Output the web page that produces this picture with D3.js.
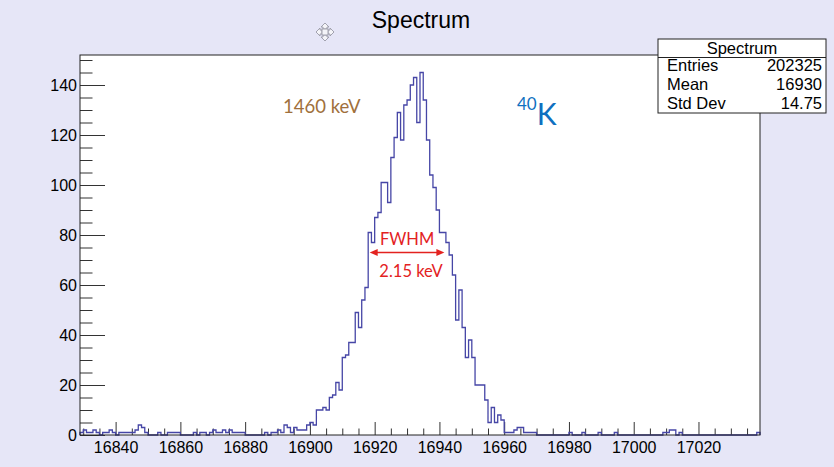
<!DOCTYPE html>
<html><head><meta charset="utf-8">
<script src="https://cdn.jsdelivr.net/npm/d3@7"></script>
<style>
html,body{margin:0;padding:0;background:#e6e6f7;}
svg{display:block;}
</style></head>
<body>
<svg id="chart" width="834" height="467"></svg>
<script>
// ---- data ----
const binStart = 16829;   // low edge of first bin, bin width 1
const binEnd = 17039;
const counts = [
  1,2,1,1,2,1,0,1,1,2,
  1,0,1,1,1,1,1,2,4,3,
  1,0,0,0,1,0,0,1,1,1,
  1,0,0,0,0,1,0,1,1,0,
  1,2,1,1,2,1,2,1,1,1,
  1,0,0,0,0,0,0,1,0,1,
  1,2,1,4,3,1,3,2,2,2,
  4,5,4,10,10,11,10,15,16,21,
  18,31,32,37,37,49,43,54,59,81,
  77,87,89,101,101,93,111,119,129,118,
  132,134,140,143,125,145,134,118,104,99,
  90,81,81,77,72,64,46,58,43,31,
  38,31,20,20,20,14,5,11,5,8,
  6,1,1,1,2,3,3,1,1,1,
  1,0,0,0,0,0,0,0,0,0,
  0,1,0,0,0,1,0,0,0,0,
  1,0,0,0,0,1,0,0,0,0,
  0,0,0,0,0,0,0,0,0,0,
  1,1,2,2,0,1,0,0,0,0,
  0,0,0,0,0,0,0,0,0,0,
  0,0,0,0,0,0,0,0,0,1
];
const xMajorTicks = [16840,16860,16880,16900,16920,16940,16960,16980,17000,17020];
const xMinorStep = 5;
const yMajorTicks = [0,20,40,60,80,100,120,140];
const yMinorStep = 5;
const yMax = 152;
const titleText = "Spectrum";
const statsTitle = "Spectrum";
const statsLabels = ["Entries","Mean","Std Dev"];
const statsValues = ["202325","16930","14.75"];
const peakLabel = "1460 keV";
const isotopeMass = "40";
const isotopeSymbol = "K";
const fwhmLabel = "FWHM";
const fwhmValue = "2.15 keV";
const fwhmRange = [16918, 16942]; // bin edges spanned by the arrow (approx.)
const fwhmLevel = 73;

// ---- layout ----
const svg = d3.select("#chart");
const L = 80, R = 760, T = 55, B = 435;
const x = d3.scaleLinear().domain([binStart, binEnd]).range([L, R]);
const y = d3.scaleLinear().domain([0, yMax]).range([B, T]);

svg.append("rect").attr("width",834).attr("height",467).attr("fill","#e6e6f7");
svg.append("rect").attr("x",L).attr("y",T).attr("width",R-L).attr("height",B-T)
  .attr("fill","#ffffff");

// title
svg.append("text").attr("x",421).attr("y",28).attr("text-anchor","middle")
  .attr("font-family","Liberation Sans, Arial, sans-serif").attr("font-size",23)
  .attr("fill","#000").text(titleText);

// move icon
const ic = svg.append("g").attr("transform","translate(325,32)")
  .attr("fill","#f4f4f8").attr("stroke","#9a9aa6").attr("stroke-width",0.9);
[0,90,180,270].forEach(a=>{
  ic.append("path").attr("transform",`rotate(${a})`)
    .attr("d","M-2,-3 L-2,-5 L-4,-5 L0,-9 L4,-5 L2,-5 L2,-3 Z");
});
ic.append("rect").attr("x",-3).attr("y",-3).attr("width",6).attr("height",6);

// minor ticks
const xMinor = d3.range(Math.ceil(binStart/xMinorStep)*xMinorStep, binEnd, xMinorStep)
  .filter(v=>!xMajorTicks.includes(v));
const yMinor = d3.range(0, yMax+0.1, yMinorStep).filter(v=>!yMajorTicks.includes(v));

const fontAx = "Liberation Sans, Arial, sans-serif";

const xAxisMinor = d3.axisBottom(x).tickValues(xMinor).tickSize(-6.5).tickFormat("");
const xAxis = d3.axisBottom(x).tickValues(xMajorTicks).tickSizeInner(-13).tickSizeOuter(0)
  .tickPadding(7).tickFormat(d3.format("d"));
const yAxisMinor = d3.axisLeft(y).tickValues(yMinor).tickSize(-12.5).tickFormat("");
const yAxis = d3.axisLeft(y).tickValues(yMajorTicks).tickSizeInner(-25).tickSizeOuter(0)
  .tickPadding(3).tickFormat(d3.format("d"));

function styleAxis(g){
  g.select(".domain").remove();
  g.selectAll("line").attr("stroke","#333").attr("stroke-width",1);
  g.selectAll("text").attr("font-family",fontAx).attr("font-size",16).attr("fill","#000");
}
svg.append("g").attr("transform",`translate(0,${B})`).call(xAxisMinor).call(styleAxis);
svg.append("g").attr("transform",`translate(0,${B})`).call(xAxis).call(styleAxis)
  .selectAll("text").attr("dy","0.71em");
svg.append("g").attr("transform",`translate(${L},0)`).call(yAxisMinor).call(styleAxis);
svg.append("g").attr("transform",`translate(${L},0)`).call(yAxis).call(styleAxis)
  .selectAll("text").attr("dy","0.36em");

// histogram outline
const pts = [[binStart,0]];
counts.forEach((c,i)=>pts.push([binStart+i, c]));
pts.push([binEnd, counts[counts.length-1]]);
pts.push([binEnd, 0]);
const line = d3.line().x(d=>x(d[0])).y(d=>y(d[1])).curve(d3.curveStepAfter);
svg.append("path").attr("d",line(pts)).attr("fill","none")
  .attr("stroke","#4646a6").attr("stroke-width",1.3);

// frame
svg.append("rect").attr("x",L).attr("y",T).attr("width",R-L).attr("height",B-T)
  .attr("fill","none").attr("stroke","#222").attr("stroke-width",1);

// stats box
const sb = {x:658, y:39, w:168, h:74, head:18.5};
svg.append("rect").attr("x",sb.x).attr("y",sb.y).attr("width",sb.w).attr("height",sb.h)
  .attr("fill","#fff").attr("stroke","#222").attr("stroke-width",1);
svg.append("line").attr("x1",sb.x).attr("x2",sb.x+sb.w).attr("y1",sb.y+sb.head).attr("y2",sb.y+sb.head)
  .attr("stroke","#222");
svg.append("text").attr("x",sb.x+sb.w/2).attr("y",sb.y+14.5).attr("text-anchor","middle")
  .attr("font-family",fontAx).attr("font-size",16.5).text(statsTitle);
statsLabels.forEach((lab,i)=>{
  const by = 71 + i*18.8;
  svg.append("text").attr("x",sb.x+9).attr("y",by).attr("font-family",fontAx)
    .attr("font-size",16.5).text(lab);
  svg.append("text").attr("x",sb.x+sb.w-4).attr("y",by).attr("text-anchor","end")
    .attr("font-family",fontAx).attr("font-size",16.5).text(statsValues[i]);
});

// annotations
const fontAnn = "Lato, 'Open Sans', sans-serif";
svg.append("text").attr("x",283).attr("y",113).attr("font-family",fontAnn)
  .attr("font-size",18.5).attr("fill","#a0703c").text(peakLabel);
const iso = svg.append("text").attr("x",517).attr("y",125).attr("font-family",fontAnn)
  .attr("fill","#0f70c0");
iso.append("tspan").attr("font-size",17).attr("dy",-15).text(isotopeMass);
iso.append("tspan").attr("font-size",30).attr("dy",15).text(isotopeSymbol);

// FWHM arrow
const red = "#e3221f";
const ax1 = x(fwhmRange[0])+1.5, ax2 = x(fwhmRange[1])-1.5, ay = y(fwhmLevel);
svg.append("line").attr("x1",ax1+4).attr("x2",ax2-4).attr("y1",ay).attr("y2",ay)
  .attr("stroke",red).attr("stroke-width",1.6);
svg.append("path").attr("d",`M${ax1},${ay} L${ax1+8},${ay-3.5} L${ax1+8},${ay+3.5} Z`).attr("fill",red);
svg.append("path").attr("d",`M${ax2},${ay} L${ax2-8},${ay-3.5} L${ax2-8},${ay+3.5} Z`).attr("fill",red);
svg.append("text").attr("x",(ax1+ax2)/2).attr("y",245).attr("text-anchor","middle")
  .attr("font-family",fontAnn).attr("font-size",16.5).attr("fill",red).text(fwhmLabel);
svg.append("text").attr("x",(ax1+ax2)/2+4).attr("y",276.5).attr("text-anchor","middle")
  .attr("font-family",fontAnn).attr("font-size",16.5).attr("fill",red).text(fwhmValue);
</script>
</body></html>
